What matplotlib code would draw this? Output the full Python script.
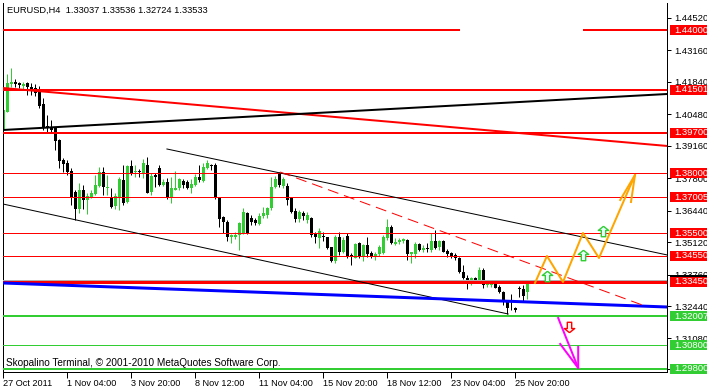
import numpy as np
import matplotlib.pyplot as plt
from matplotlib.patches import Rectangle
from matplotlib.path import Path
from matplotlib.transforms import blended_transform_factory

plt.rcParams['font.family'] = ['Liberation Sans', 'DejaVu Sans']

# EURUSD H4 candles
opens = [
    1.3982, 1.4059, 1.4175, 1.4184, 1.4179, 1.4168, 1.4178, 1.4164, 1.4157, 1.4153,
    1.4091, 1.3999, 1.3991, 1.3989, 1.3940, 1.3857, 1.3842, 1.3810, 1.3723, 1.3651,
    1.3731, 1.3689, 1.3703, 1.3714, 1.3748, 1.3805, 1.3740, 1.3703, 1.3664, 1.3703,
    1.3773, 1.3681, 1.3831, 1.3806, 1.3810, 1.3803, 1.3836, 1.3723, 1.3793, 1.3824,
    1.3752, 1.3763, 1.3703, 1.3731, 1.3738, 1.3768, 1.3763, 1.3738, 1.3752, 1.3786,
    1.3770, 1.3822, 1.3836, 1.3836, 1.3696, 1.3616, 1.3598, 1.3535, 1.3535, 1.3542,
    1.3552, 1.3636, 1.3612, 1.3605, 1.3588, 1.3622, 1.3626, 1.3654, 1.3745, 1.3803,
    1.3748, 1.3748, 1.3696, 1.3644, 1.3608, 1.3636, 1.3605, 1.3612, 1.3546, 1.3528,
    1.3539, 1.3532, 1.3490, 1.3433, 1.3535, 1.3472, 1.3539, 1.3458, 1.3447, 1.3507,
    1.3451, 1.3500, 1.3465, 1.3451, 1.3461, 1.3465, 1.3528, 1.3577, 1.3503, 1.3511,
    1.3517, 1.3521, 1.3461, 1.3461, 1.3504, 1.3479, 1.3486, 1.3479, 1.3517, 1.3493,
    1.3517, 1.3475, 1.3465, 1.3458, 1.3447, 1.3388, 1.3362, 1.3335, 1.3360, 1.3353,
    1.3395, 1.3332, 1.3332, 1.3339, 1.3325, 1.3304, 1.3262, 1.3265, 1.3237, 1.3321,
    1.3316, 1.33037]
highs = [
    1.4075, 1.4217, 1.4242, 1.4196, 1.4184, 1.4184, 1.4184, 1.4178, 1.4175, 1.4167,
    1.4115, 1.4045, 1.4024, 1.3996, 1.3945, 1.3865, 1.3857, 1.3822, 1.3731, 1.3761,
    1.3752, 1.3720, 1.3731, 1.3793, 1.3826, 1.3828, 1.3793, 1.3739, 1.3718, 1.3786,
    1.3836, 1.3836, 1.3857, 1.3836, 1.3818, 1.3859, 1.3868, 1.3801, 1.3801, 1.3836,
    1.3776, 1.3780, 1.3786, 1.3812, 1.3782, 1.3776, 1.3773, 1.3776, 1.3798, 1.3836,
    1.3842, 1.3857, 1.3840, 1.3842, 1.3703, 1.3622, 1.3605, 1.3546, 1.3556, 1.3598,
    1.3654, 1.3640, 1.3626, 1.3612, 1.3633, 1.3661, 1.3661, 1.3786, 1.3789, 1.3807,
    1.3786, 1.3760, 1.3703, 1.3655, 1.3647, 1.3642, 1.3639, 1.3619, 1.3554, 1.3570,
    1.3553, 1.3535, 1.3493, 1.3542, 1.3556, 1.3535, 1.3549, 1.3465, 1.3507, 1.3514,
    1.3503, 1.3535, 1.3475, 1.3469, 1.3500, 1.3542, 1.3609, 1.3584, 1.3528, 1.3531,
    1.3531, 1.3525, 1.3472, 1.3514, 1.3507, 1.3500, 1.3507, 1.3549, 1.3563, 1.3521,
    1.3521, 1.3483, 1.3472, 1.3465, 1.3451, 1.3416, 1.3374, 1.3367, 1.3367, 1.3409,
    1.3402, 1.3343, 1.3346, 1.3349, 1.3332, 1.3307, 1.3269, 1.3293, 1.3241, 1.3329,
    1.3332, 1.33536]
lows = [
    1.3978, 1.4058, 1.4164, 1.4161, 1.4158, 1.4155, 1.4129, 1.4129, 1.4125, 1.4073,
    1.3982, 1.3971, 1.3970, 1.3898, 1.3822, 1.3807, 1.3793, 1.3668, 1.3605, 1.3635,
    1.3651, 1.3630, 1.3697, 1.3710, 1.3745, 1.3710, 1.3710, 1.3655, 1.3651, 1.3647,
    1.3668, 1.3676, 1.3793, 1.3786, 1.3786, 1.3779, 1.3717, 1.3710, 1.3745, 1.3748,
    1.3748, 1.3692, 1.3675, 1.3729, 1.3731, 1.3738, 1.3734, 1.3717, 1.3748, 1.3766,
    1.3766, 1.3817, 1.3815, 1.3692, 1.3577, 1.3549, 1.3518, 1.3507, 1.3524, 1.3479,
    1.3546, 1.3546, 1.3584, 1.3584, 1.3584, 1.3612, 1.3612, 1.3647, 1.3738, 1.3745,
    1.3739, 1.3668, 1.3634, 1.3597, 1.3597, 1.3605, 1.3593, 1.3534, 1.3508, 1.3486,
    1.3517, 1.3483, 1.3430, 1.3423, 1.3458, 1.3465, 1.3444, 1.3416, 1.3444, 1.3447,
    1.3433, 1.3451, 1.3447, 1.3437, 1.3455, 1.3461, 1.3521, 1.3503, 1.3500, 1.3503,
    1.3507, 1.3437, 1.3423, 1.3444, 1.3475, 1.3472, 1.3472, 1.3472, 1.3483, 1.3479,
    1.3469, 1.3451, 1.3444, 1.3437, 1.3381, 1.3357, 1.3315, 1.3332, 1.3339, 1.3349,
    1.3318, 1.3325, 1.3325, 1.3318, 1.3297, 1.3248, 1.3209, 1.3227, 1.3218, 1.3283,
    1.3265, 1.32724]
closes = [
    1.4066, 1.4181, 1.4185, 1.4175, 1.4170, 1.4175, 1.4164, 1.4155, 1.4136, 1.4084,
    1.3989, 1.3991, 1.3982, 1.3937, 1.3853, 1.3839, 1.3807, 1.3696, 1.3651, 1.3731,
    1.3689, 1.3706, 1.3720, 1.3752, 1.3807, 1.3742, 1.3745, 1.3661, 1.3706, 1.3777,
    1.3677, 1.3831, 1.3800, 1.3810, 1.3806, 1.3845, 1.3720, 1.3789, 1.3786, 1.3752,
    1.3766, 1.3703, 1.3738, 1.3740, 1.3776, 1.3752, 1.3738, 1.3756, 1.3786, 1.3773,
    1.3828, 1.3842, 1.3833, 1.3696, 1.3608, 1.3598, 1.3535, 1.3541, 1.3542, 1.3593,
    1.3640, 1.3552, 1.3598, 1.3591, 1.3622, 1.3636, 1.3654, 1.3745, 1.3776, 1.3752,
    1.3776, 1.3689, 1.3640, 1.3608, 1.3640, 1.3622, 1.3626, 1.3542, 1.3532, 1.3559,
    1.3534, 1.3486, 1.3433, 1.3535, 1.3472, 1.3521, 1.3451, 1.3454, 1.3503, 1.3451,
    1.3500, 1.3461, 1.3455, 1.3461, 1.3493, 1.3535, 1.3577, 1.3507, 1.3514, 1.3521,
    1.3525, 1.3461, 1.3469, 1.3504, 1.3479, 1.3489, 1.3483, 1.3517, 1.3489, 1.3517,
    1.3472, 1.3461, 1.3451, 1.3444, 1.3385, 1.3360, 1.3339, 1.3362, 1.3353, 1.3395,
    1.3332, 1.3339, 1.3339, 1.3321, 1.3302, 1.3260, 1.3234, 1.3260, 1.3226, 1.3316,
    1.3288, 1.33533]

bid = 1.33533
time_labels = ['27 Oct 2011', '1 Nov 04:00', '3 Nov 20:00', '8 Nov 12:00', '11 Nov 04:00',
               '15 Nov 20:00', '18 Nov 12:00', '23 Nov 04:00', '25 Nov 20:00']
time_bars = [0, 16, 32, 48, 64, 80, 96, 112, 128]
price_ticks = [1.44520, 1.43160, 1.41840, 1.40480, 1.39160, 1.37800,
               1.36440, 1.35120, 1.33760, 1.32440, 1.31080, 1.29800]

red_levels = [1.41501, 1.39700, 1.38000, 1.37005, 1.35500, 1.34550, 1.33450]
red_widths = [2, 2, 1, 1, 1, 1, 3]
top_level = 1.44000
green_levels = [1.32007, 1.30800, 1.29800]
green_widths = [2, 1, 2]

# drawn objects, (bar, price)
red_slope = ([-0.1, 166], [1.41584, 1.39152])
black_slope = ([-0.1, 166], [1.39823, 1.41333])
channel_top = ([40.9, 166], [1.39026, 1.34580])
channel_bottom = ([-0.1, 126.2], [1.36719, 1.32106])
blue_slope = ([-0.1, 166], [1.33406, 1.32399])
red_dashed = ([69.2, 160.4], [1.38061, 1.32441])
zigzag_bars = [132.9, 135.9, 139.9, 144.9, 148.9, 157.9]
zigzag_prices = [1.33406, 1.34538, 1.33448, 1.35503, 1.34454, 1.37936]
orange_wings = ([154.2, 157.9, 156.9], [1.36887, 1.37936, 1.36803])
magenta_bars = [138.7, 143.7]
magenta_prices = [1.31938, 1.29841]
magenta_wings = ([139.2, 143.7, 143.7], [1.30848, 1.29841, 1.30722])
up_arrow_bars = [135.9, 144.9, 149.9]
up_arrow_prices = [1.33700, 1.34580, 1.35587]
down_arrow_bar = [141.4]
down_arrow_price = [1.31561]

GREEN = '#32CD32'
PX = 0.72  # one pixel in points

fig = plt.figure(figsize=(7.07, 3.9), dpi=100)
ax = fig.add_axes([3 / 707, 18 / 390, 664 / 707, 369 / 390])
ax.set_xlim(-0.075, 165.9)
ax.set_ylim(1.29673, 1.45149)

o = np.array(opens)
h = np.array(highs)
l = np.array(lows)
c = np.array(closes)
x = np.arange(len(o))
cols = np.where(c >= o, GREEN, 'black')

ax.vlines(x, l, h, colors=cols, lw=PX, zorder=2)
body = np.maximum(np.abs(c - o), 0.0004)
ax.bar(x, body, bottom=np.minimum(o, c), width=0.75, color=cols, linewidth=0, zorder=2)

# horizontal levels
ax.axhline(bid, color='#b0b0b0', lw=PX, zorder=3)
for p, w in zip(red_levels, red_widths):
    ax.axhline(p, color='red', lw=w * PX, zorder=3)
ax.hlines([top_level, top_level], [-1, 144.9], [114.2, 170], color='red', lw=2 * PX, zorder=3)
for p, w in zip(green_levels, green_widths):
    ax.axhline(p, color=GREEN, lw=w * PX, zorder=3)

# trend lines
ax.plot(*red_slope, color='red', lw=2 * PX, zorder=4)
ax.plot(*black_slope, color='black', lw=2 * PX, zorder=4)
ax.plot(*channel_top, color='black', lw=PX, zorder=4)
ax.plot(*channel_bottom, color='black', lw=PX, zorder=4)
ax.plot(*blue_slope, color='#0000ff', lw=3 * PX, zorder=4)
ax.plot(*red_dashed, color='red', lw=PX, dashes=(11, 6), zorder=4)

# forecast drawings
ax.plot(zigzag_bars, zigzag_prices, color='#FFA500', lw=2 * PX, zorder=5)
ax.plot(*orange_wings, color='#FFA500', lw=2 * PX, zorder=5)
ax.plot(magenta_bars, magenta_prices, color='#FF00FF', lw=2 * PX, zorder=5)
ax.plot(*magenta_wings, color='#FF00FF', lw=2 * PX, zorder=5)

arrow_up = Path([(0, 1), (1, 0.2), (0.42, 0.2), (0.42, -1), (-0.42, -1),
                 (-0.42, 0.2), (-1, 0.2), (0, 1)])
arrow_down = Path([(vx, -vy) for vx, vy in arrow_up.vertices])
ax.plot(up_arrow_bars, up_arrow_prices, ls='none', marker=arrow_up, ms=7.5,
        mfc='#e8ffff', mec=GREEN, mew=1.0, zorder=6)
ax.plot(down_arrow_bar, down_arrow_price, ls='none', marker=arrow_down, ms=7.5,
        mfc='#fff0f0', mec='red', mew=1.0, zorder=6)

# axes look
ax.spines['top'].set_visible(False)
for s in ['left', 'bottom', 'right']:
    ax.spines[s].set_linewidth(PX)
ax.yaxis.tick_right()
ax.set_yticks(price_ticks)
ax.set_yticklabels(['%.5f' % p for p in price_ticks])
ax.tick_params(axis='y', length=3, width=PX, labelsize=6.8, pad=2)
ax.set_xticks(time_bars)
ax.set_xticklabels(time_labels)
for t in ax.get_xticklabels():
    t.set_ha('left')
ax.tick_params(axis='x', length=4, width=PX, labelsize=6.6, pad=1)

# price labels on the right scale (bid box sits mostly under the 1.33450 box)
tr = blended_transform_factory(fig.transFigure, ax.transData)
box_h = 0.0042
fig.add_artist(Rectangle((670 / 707, bid - box_h / 2), 40 / 707, box_h,
                         transform=tr, facecolor='black', edgecolor='none', zorder=5))
boxes = [(p, 'red') for p in [top_level] + red_levels] + [(p, GREEN) for p in green_levels]
for p, colr in boxes:
    fig.add_artist(Rectangle((670 / 707, p - box_h / 2), 40 / 707, box_h,
                             transform=tr, facecolor=colr, edgecolor='none', zorder=5))
    fig.text(674 / 707, p, '%.5f' % p, transform=tr, color='white', fontsize=6.8,
             va='center', ha='left', zorder=6)

fig.text(7 / 707, 1 - 10 / 390, 'EURUSD,H4  1.33037 1.33536 1.32724 1.33533',
         fontsize=6.7, va='center', ha='left')
fig.text(6 / 707, 1 - 363 / 390, 'Skopalino Terminal, \u00a9 2001-2010 MetaQuotes Software Corp.',
         fontsize=7.2, va='center', ha='left')

fig.savefig('out.png', dpi=100)
